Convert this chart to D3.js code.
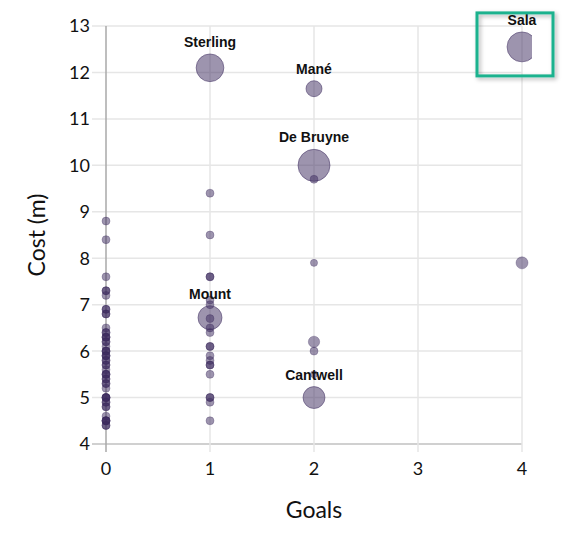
<!DOCTYPE html>
<html lang="en">
  <head>
    <meta charset="UTF-8" />
    <title>Goals vs Cost</title>
    <script src="https://cdn.jsdelivr.net/npm/d3@7"></script>
    <style>
      body {
        margin: 0;
        padding: 0;
        background: #fff;
      }
    </style>
  </head>

  <body>
    <svg width="569" height="542"></svg>

    <script>
      // named players (labelled bubbles)
      var names = ['Sterling', 'Mané', 'De Bruyne', 'Mount', 'Cantwell', 'Sala']
      var namedGoals = [1, 2, 2, 1, 2, 4]
      var namedCost = [12.1, 11.65, 10.0, 6.72, 5.0, 12.55]
      var namedPoints = [12, 4, 16, 9, 7.5, 14]

      // everyone else, grouped by goals scored
      var cost0 = [8.8, 8.4, 7.6, 7.3, 7.3, 7.2, 6.9, 6.9, 6.8, 6.8, 6.5, 6.4,
        6.4, 6.3, 6.3, 6.3, 6.2, 6.2, 6.1, 6.0, 6.0, 6.0, 5.9, 5.9, 5.9, 5.8,
        5.8, 5.7, 5.7, 5.6, 5.5, 5.5, 5.5, 5.4, 5.4, 5.3, 5.3, 5.2, 5.0, 5.0,
        5.0, 5.0, 4.9, 4.9, 4.8, 4.8, 4.6, 4.5, 4.5, 4.5, 4.5, 4.4, 4.4]
      var cost1 = [9.4, 8.5, 7.6, 7.6, 7.1, 7.0, 6.7, 6.5, 6.4, 6.1, 6.1, 5.9,
        5.8, 5.7, 5.7, 5.5, 5.0, 5.0, 4.9, 4.5]
      var cost2 = [9.7, 7.9, 6.2, 6.0, 5.5]
      var points2 = [1, 0.8, 2, 1, 0.8]
      var cost4 = [7.9]
      var points4 = [2.25]
      var basePoints = 1

      var xTicks = [0, 1, 2, 3, 4]
      var yTicks = [4, 5, 6, 7, 8, 9, 10, 11, 12, 13]

      var others = []
      cost0.forEach((c) => others.push({ g: 0, c: c, p: basePoints }))
      cost1.forEach((c) => others.push({ g: 1, c: c, p: basePoints }))
      cost2.forEach((c, i) => others.push({ g: 2, c: c, p: points2[i] }))
      cost4.forEach((c, i) => others.push({ g: 4, c: c, p: points4[i] }))
      var named = names.map((n, i) => ({
        name: n,
        g: namedGoals[i],
        c: namedCost[i],
        p: namedPoints[i],
      }))

      var svg = d3.select('svg')
      var purple = '#3b2a5e'

      var x = d3.scaleLinear().domain([0, 4]).range([106, 522])
      var y = d3.scaleLinear().domain([4, 13]).range([444, 26])
      var r = d3.scaleSqrt().domain([0, 16]).range([0, 16])

      var defs = svg.append('defs')
      defs
        .append('clipPath')
        .attr('id', 'plotclip')
        .append('rect')
        .attr('x', 0)
        .attr('y', 0)
        .attr('width', 532)
        .attr('height', 542)
      var shadow = defs
        .append('filter')
        .attr('id', 'shadow')
        .attr('x', '-20%')
        .attr('y', '-20%')
        .attr('width', '150%')
        .attr('height', '150%')
      shadow
        .append('feDropShadow')
        .attr('dx', 2)
        .attr('dy', 2)
        .attr('stdDeviation', 2)
        .attr('flood-color', '#000')
        .attr('flood-opacity', 0.3)

      // grid
      svg
        .append('g')
        .selectAll('line')
        .data(yTicks)
        .enter()
        .append('line')
        .attr('x1', x(0) - 14)
        .attr('x2', x(4))
        .attr('y1', (d) => y(d))
        .attr('y2', (d) => y(d))
        .attr('stroke', (d) => (d === 4 ? '#d0d0d0' : '#e6e6e6'))
        .attr('stroke-width', (d) => (d === 4 ? 2 : 1.5))

      svg
        .append('g')
        .selectAll('line')
        .data(xTicks)
        .enter()
        .append('line')
        .attr('x1', (d) => x(d))
        .attr('x2', (d) => x(d))
        .attr('y1', y(13))
        .attr('y2', y(4) + 8)
        .attr('stroke', (d) => (d === 0 ? '#a8a8a8' : '#e6e6e6'))
        .attr('stroke-width', 1.5)

      // tick labels
      svg
        .append('g')
        .selectAll('text')
        .data(yTicks)
        .enter()
        .append('text')
        .attr('x', x(0) - 16)
        .attr('y', (d) => y(d))
        .attr('dy', '0.36em')
        .attr('text-anchor', 'end')
        .attr('font-family', 'Lato, sans-serif')
        .attr('font-size', 18)
        .attr('fill', '#111')
        .text((d) => d)

      svg
        .append('g')
        .selectAll('text')
        .data(xTicks)
        .enter()
        .append('text')
        .attr('x', (d) => x(d))
        .attr('y', y(4) + 31)
        .attr('text-anchor', 'middle')
        .attr('font-family', 'Lato, sans-serif')
        .attr('font-size', 18)
        .attr('fill', '#111')
        .text((d) => d)

      // axis titles
      svg
        .append('text')
        .attr('transform', `translate(45, ${(y(4) + y(13)) / 2}) rotate(-90)`)
        .attr('text-anchor', 'middle')
        .attr('font-family', 'Lato, sans-serif')
        .attr('font-size', 23)
        .attr('fill', '#111')
        .text('Cost (m)')

      svg
        .append('text')
        .attr('x', x(2))
        .attr('y', 518)
        .attr('text-anchor', 'middle')
        .attr('font-family', 'Lato, sans-serif')
        .attr('font-size', 23)
        .attr('fill', '#111')
        .text('Goals')

      // points
      var plot = svg.append('g').attr('clip-path', 'url(#plotclip)')

      plot
        .selectAll('.dot')
        .data(others)
        .enter()
        .append('circle')
        .attr('class', 'dot')
        .attr('cx', (d) => x(d.g))
        .attr('cy', (d) => y(d.c))
        .attr('r', (d) => r(d.p))
        .attr('fill', purple)
        .attr('fill-opacity', 0.5)
        .attr('stroke', purple)
        .attr('stroke-opacity', 0.3)

      plot
        .selectAll('.big')
        .data(named)
        .enter()
        .append('circle')
        .attr('class', 'big')
        .attr('cx', (d) => x(d.g))
        .attr('cy', (d) => y(d.c))
        .attr('r', (d) => r(d.p))
        .attr('fill', purple)
        .attr('fill-opacity', 0.5)
        .attr('stroke', purple)
        .attr('stroke-opacity', 0.5)

      svg
        .append('g')
        .selectAll('text')
        .data(named)
        .enter()
        .append('text')
        .attr('x', (d) => x(d.g))
        .attr('y', (d) => y(d.c) - r(d.p) - 7)
        .attr('text-anchor', 'middle')
        .attr('font-family', 'Liberation Sans, Arial, sans-serif')
        .attr('font-weight', 'bold')
        .attr('font-size', 14)
        .attr('fill', '#111')
        .text((d) => d.name)

      // highlight box around Sala
      var sala = named.find((d) => d.name === 'Sala')
      svg
        .append('rect')
        .attr('x', x(sala.g) - 45)
        .attr('y', y(sala.c) - 34)
        .attr('width', 76)
        .attr('height', 63)
        .attr('fill', 'none')
        .attr('stroke', '#1bb28e')
        .attr('stroke-width', 3)
        .attr('filter', 'url(#shadow)')
    </script>
  </body>
</html>
